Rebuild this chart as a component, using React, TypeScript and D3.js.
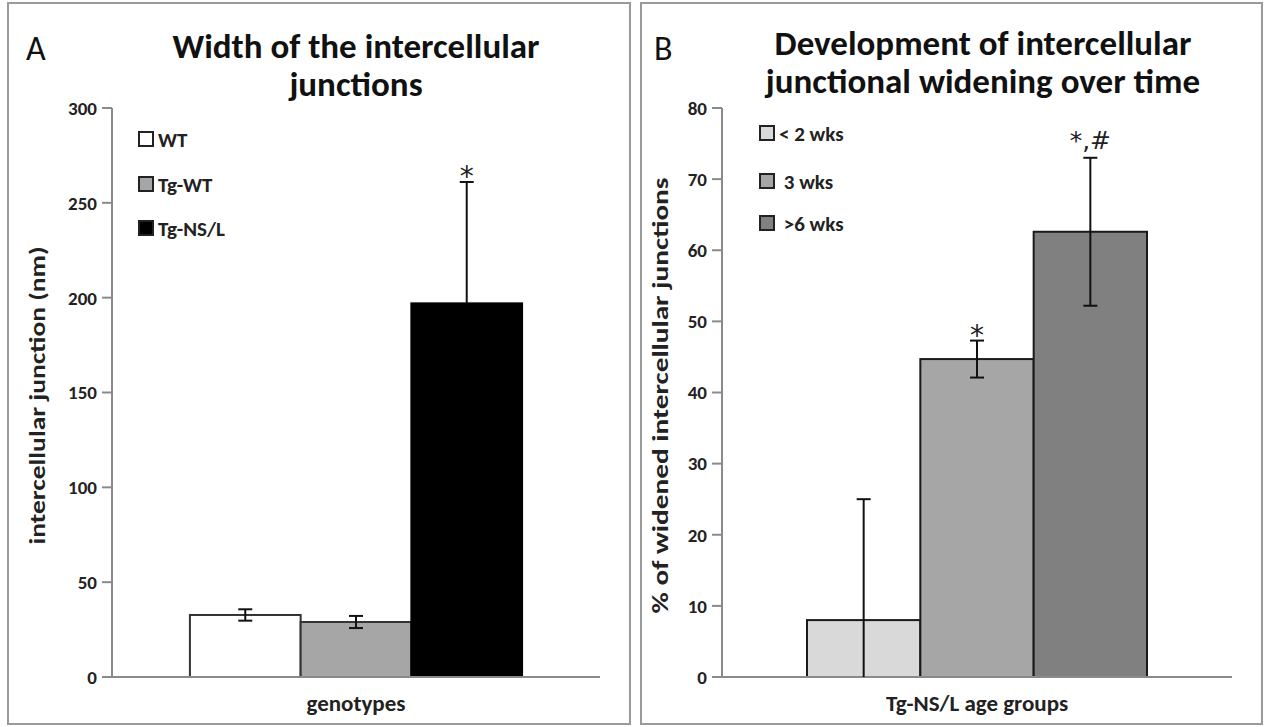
import React from "react";
import * as d3 from "d3";

// Panel A data
const genotypeCategory = ["genotypes"];
const genotypes = ["WT", "Tg-WT", "Tg-NS/L"];
const widthValues = [32.7, 29, 197];
const widthErrors = [3, 3.2, 64];
const widthColors = ["#ffffff", "#a6a6a6", "#000000"];
const widthTicks = [0, 50, 100, 150, 200, 250, 300];
const widthMarks = ["", "", "*"];

// Panel B data
const ageCategory = ["Tg-NS/L age groups"];
const ageGroups = ["< 2 wks", " 3 wks", " >6 wks"];
const pctValues = [8, 44.7, 62.6];
const pctErrors = [17, 2.6, 10.4];
const pctColors = ["#d9d9d9", "#a6a6a6", "#808080"];
const pctTicks = [0, 10, 20, 30, 40, 50, 60, 70, 80];
const pctMarks = ["", "*", "*,#"];

const FONT = "Carlito, Lato, 'Open Sans', sans-serif";

type PanelProps = {
  letter: string;
  letterX: number;
  box: [number, number];
  title: string[];
  titleY: number[];
  titleDx: number;
  yTitle: string;
  yTitleX: number;
  yTitleLen: number;
  xRange: [number, number];
  yMax: number;
  ticks: number[];
  category: string[];
  groups: string[];
  values: number[];
  errors: number[];
  colors: string[];
  marks: string[];
  padding: number;
  legendBoxX: number;
  legendY: number[];
  strokes: string[];
};

function Panel(p: PanelProps) {
  const y = d3.scaleLinear().domain([0, p.yMax]).range([677, 108]);
  const outer = d3.scaleBand().domain(p.category).range(p.xRange).padding(p.padding);
  const inner = d3.scaleBand().domain(p.groups).range([0, outer.bandwidth()]).padding(0);
  const cx = (p.xRange[0] + p.xRange[1]) / 2;
  const x0 = p.xRange[0];
  return (
    <g>
      <rect x={p.box[0]} y={3} width={p.box[1] - p.box[0]} height={721} fill="#fff" stroke="#9a9a9a" strokeWidth={2} />
      <text x={p.letterX} y={60} fontFamily={FONT} fontSize={34} fill="#111">{p.letter}</text>
      {p.title.map((t, i) => (
        <text key={i} x={cx + p.titleDx} y={p.titleY[i]} textAnchor="middle" fontFamily={FONT} fontWeight="bold" fontSize={35} fill="#111">{t}</text>
      ))}
      {/* y axis */}
      <line x1={x0} x2={x0} y1={y(p.yMax)} y2={y(0)} stroke="#8a8a8a" strokeWidth={2} />
      {p.ticks.map((t) => (
        <g key={t}>
          <line x1={x0 - 10} x2={x0} y1={y(t)} y2={y(t)} stroke="#8a8a8a" strokeWidth={2} />
          <text x={x0 - 15} y={y(t)} dy="0.36em" textAnchor="end" fontFamily={FONT} fontWeight="bold" fontSize={19} fill="#222">{t}</text>
        </g>
      ))}
      <text transform={`translate(${p.yTitleX},${(y(0) + y(p.yMax)) / 2 + 3}) rotate(-90)`} textAnchor="middle" fontFamily={FONT} fontWeight="bold" fontSize={22} fill="#222" textLength={p.yTitleLen} lengthAdjust="spacingAndGlyphs">{p.yTitle}</text>
      {/* bars */}
      {p.groups.map((g, i) => {
        const bx = (outer(p.category[0]) as number) + (inner(g) as number);
        return (
          <rect key={g} x={bx} y={y(p.values[i])} width={inner.bandwidth()} height={y(0) - y(p.values[i])} fill={p.colors[i]} stroke={p.strokes[i]} strokeWidth={2} />
        );
      })}
      {/* x axis */}
      <line x1={p.xRange[0]} x2={p.xRange[1]} y1={y(0)} y2={y(0)} stroke="#8a8a8a" strokeWidth={2} />
      <text x={cx} y={711} textAnchor="middle" fontFamily={FONT} fontWeight="bold" fontSize={23} fill="#222">{p.category[0]}</text>
      {/* error bars */}
      {p.groups.map((g, i) => {
        const ex = (outer(p.category[0]) as number) + (inner(g) as number) + inner.bandwidth() / 2;
        const hi = p.values[i] + p.errors[i];
        const lo = Math.max(0, p.values[i] - p.errors[i]);
        const hidden = p.colors[i] === "#000000";
        return (
          <g key={g} stroke="#111" strokeWidth={2}>
            <line x1={ex} x2={ex} y1={y(hi)} y2={hidden ? y(p.values[i]) : y(lo)} />
            <line x1={ex - 7} x2={ex + 7} y1={y(hi)} y2={y(hi)} />
            {!hidden && p.values[i] - p.errors[i] > 0 && <line x1={ex - 7} x2={ex + 7} y1={y(lo)} y2={y(lo)} />}
          </g>
        );
      })}
      {p.groups.map((g, i) => {
        const ex = (outer(p.category[0]) as number) + (inner(g) as number) + inner.bandwidth() / 2;
        const hi = p.values[i] + p.errors[i];
        const multi = p.marks[i].length > 1;
        return p.marks[i] ? (
          <text key={g} x={ex} y={y(hi) + (multi ? -9 : 4)} textAnchor="middle" fontFamily="'DejaVu Sans', sans-serif" fontSize={multi ? 25 : 28} fill="#222">{p.marks[i]}</text>
        ) : null;
      })}
      {/* legend */}
      {p.groups.map((g, i) => (
        <g key={g}>
          <rect x={p.legendBoxX} y={p.legendY[i] - 7} width={14} height={14} fill={p.colors[i]} stroke="#222" strokeWidth={2} />
          <text x={p.legendBoxX + 19} y={p.legendY[i]} dy="0.36em" fontFamily={FONT} fontWeight="bold" fontSize={21} fill="#222" style={{ whiteSpace: "pre" }}>{g}</text>
        </g>
      ))}
    </g>
  );
}

export default function App() {
  return (
    <svg width={1264} height={727} style={{ position: "absolute", left: 0, top: 0 }}>
      <rect width={1264} height={727} fill="#fff" />
      <Panel
        letter="A" letterX={26} box={[8, 630]}
        title={["Width of the intercellular", "junctions"]} titleY={[58, 96]} titleDx={0}
        yTitle="intercellular junction (nm)" yTitleX={45} yTitleLen={298}
        xRange={[112, 600]} yMax={300} ticks={widthTicks}
        category={genotypeCategory} groups={genotypes}
        values={widthValues} errors={widthErrors} colors={widthColors}
        strokes={["#333", "#333", "#000"]}
        marks={widthMarks} padding={0.19}
        legendBoxX={139} legendY={[139, 184, 228]}
      />
      <Panel
        letter="B" letterX={654} box={[641, 1262]}
        title={["Development of intercellular", "junctional widening over time"]} titleY={[55, 93]} titleDx={6}
        yTitle="% of widened intercellular junctions" yTitleX={668} yTitleLen={436}
        xRange={[722, 1232]} yMax={80} ticks={pctTicks}
        category={ageCategory} groups={ageGroups}
        values={pctValues} errors={pctErrors} colors={pctColors}
        strokes={["#1a1a1a", "#1a1a1a", "#1a1a1a"]}
        marks={pctMarks} padding={0.2}
        legendBoxX={760} legendY={[133, 181, 223]}
      />
    </svg>
  );
}
